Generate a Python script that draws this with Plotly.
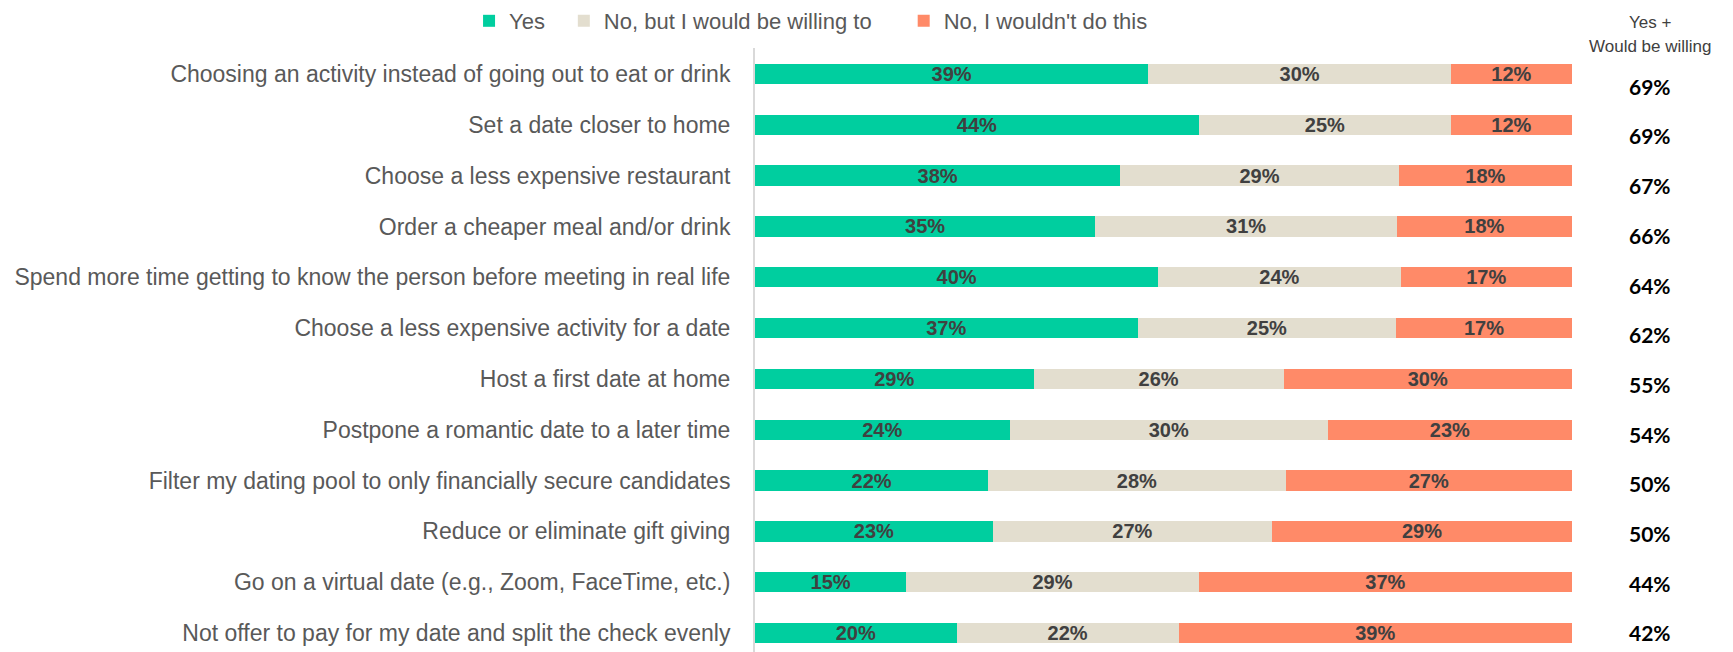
import plotly.graph_objects as go

categories = [
    "Choosing an activity instead of going out to eat or drink",
    "Set a date closer to home",
    "Choose a less expensive restaurant",
    "Order a cheaper meal and/or drink",
    "Spend more time getting to know the person before meeting in real life",
    "Choose a less expensive activity for a date",
    "Host a first date at home",
    "Postpone a romantic date to a later time",
    "Filter my dating pool to only financially secure candidates",
    "Reduce or eliminate gift giving",
    "Go on a virtual date (e.g., Zoom, FaceTime, etc.)",
    "Not offer to pay for my date and split the check evenly",
]
yes = [39, 44, 38, 35, 40, 37, 29, 24, 22, 23, 15, 20]
willing = [30, 25, 29, 31, 24, 25, 26, 30, 28, 27, 29, 22]
wouldnt = [12, 12, 18, 18, 17, 17, 30, 23, 27, 29, 37, 39]
yes_plus_willing = [69, 69, 67, 66, 64, 62, 55, 54, 50, 50, 44, 42]

series = [
    ("Yes", yes, "#00CE9F", "legend", -0.350),
    ("No, but I would be willing to", willing, "#E3DECF", "legend2", -0.234),
    ("No, I wouldn't do this", wouldnt, "#FF8A68", "legend3", 0.182),
]

fig = go.Figure()
legend_font = dict(family="Liberation Sans", size=22, color="#595959")
for name, vals, color, leg, lx in series:
    fig.add_trace(go.Bar(
        y=categories, x=vals, name=name, orientation="h",
        marker=dict(color=color, line=dict(width=0)),
        text=[f"{v}%" for v in vals], textposition="inside",
        insidetextanchor="middle", constraintext="none",
        textfont=dict(family="Liberation Sans", size=20, color="#404040", weight="bold"),
        width=0.4, hoverinfo="skip", legend=leg, showlegend=True,
    ))
    fig.update_layout({leg: dict(
        orientation="h", x=lx, xanchor="left", y=1.0447, yanchor="middle",
        font=legend_font, itemclick=False, bgcolor="rgba(0,0,0,0)",
    )})

n = len(categories)
for i, (cat, tot) in enumerate(zip(categories, yes_plus_willing)):
    fig.add_annotation(
        x=1.0955, xref="paper", xanchor="center", y=cat, yref="y",
        yshift=-(12.2 - 12.2 * i / (n - 1)),
        text=f"<b>{tot}%</b>", showarrow=False,
        font=dict(family="Lato, Open Sans", size=21, color="#000000"),
    )

for txt, yy in [("Yes +", 1.043), ("Would be willing", 1.0027)]:
    fig.add_annotation(
        x=1.0955, xref="paper", xanchor="center", y=yy, yref="paper", yanchor="middle",
        text=txt, showarrow=False,
        font=dict(family="Liberation Sans", size=17, color="#404040"),
    )

fig.update_layout(
    barmode="stack", barnorm="percent",
    width=1725, height=644,
    margin=dict(l=747, r=161, t=40, b=0, autoexpand=False),
    plot_bgcolor="white", paper_bgcolor="white",
    showlegend=True,
)
fig.update_xaxes(range=[0, 100], visible=False, showgrid=False, fixedrange=True)
fig.update_yaxes(
    range=[11.374, -0.512], showgrid=False, showline=True, linecolor="#D9D9D9", linewidth=2,
    tickfont=dict(family="Liberation Sans", size=23, color="#595959"),
    ticks="", ticklabelstandoff=18, automargin=False,
)

fig.write_html("out.html")
